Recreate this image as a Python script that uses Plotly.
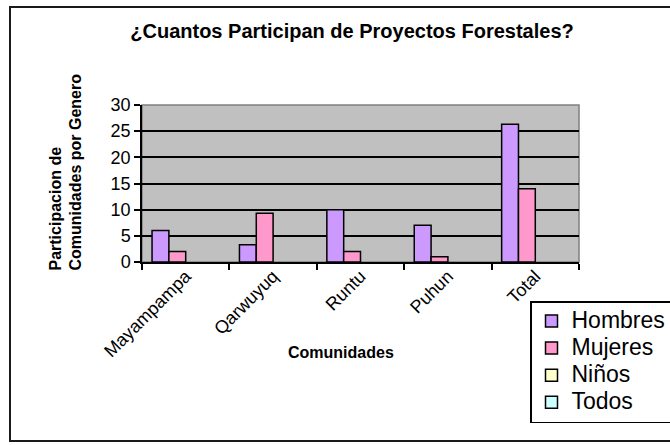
import plotly.graph_objects as go

# ---- data ----
categories = ["Mayampampa", "Qarwuyuq", "Runtu", "Puhun", "Total"]
series_names = ["Hombres", "Mujeres", "Niños", "Todos"]
hombres = [6, 3.3, 10, 7, 26.3]
mujeres = [2, 9.3, 2, 1, 14]
ninos = [None, None, None, None, None]
todos = [None, None, None, None, None]
series_values = [hombres, mujeres, ninos, todos]
series_colors = ["#cc99ff", "#ff99cc", "#ffffcc", "#ccffff"]
y_ticks = [0, 5, 10, 15, 20, 25, 30]

# ---- layout geometry (pixels) ----
W, H = 670, 445
L, R, T, B = 142, 91, 105, 183
PW, PH = W - L - R, H - T - B


def px(x):
    return (x - L) / PW


def py(y):
    return (H - B - y) / PH


fig = go.Figure()
for name, vals, col in zip(series_names, series_values, series_colors):
    fig.add_trace(go.Bar(
        x=categories, y=vals,
        name="<span style='font-size:23px'>" + name + "</span>",
        marker=dict(color=col, line=dict(color="#000000", width=1.5)),
    ))

font_main = "Liberation Sans, Arial, sans-serif"

fig.update_layout(
    width=W, height=H,
    margin=dict(l=L, r=R, t=T, b=B, autoexpand=False),
    paper_bgcolor="white",
    plot_bgcolor="#c0c0c0",
    barmode="group",
    bargap=0.23,
    bargroupgap=0,
    font=dict(family=font_main, color="black"),
    title=dict(
        text="<b>¿Cuantos Participan de Proyectos Forestales?</b>",
        font=dict(family="Liberation Sans Narrow, Arial Narrow, Liberation Sans, sans-serif", size=20, color="black"),
        x=352 / W, xref="container", xanchor="center",
        y=1 - 31 / H, yref="container", yanchor="middle",
    ),
    xaxis=dict(
        type="category",
        tickson="boundaries",
        ticks="outside", ticklen=6, tickwidth=1.5, tickcolor="black",
        showline=True, linecolor="black", linewidth=1.5,
        tickangle=-45,
        ticklabelstandoff=-5,
        tickfont=dict(size=18, family=font_main, color="black"),
        showgrid=False,
        automargin=False,
    ),
    yaxis=dict(
        range=[0, 30],
        tickvals=y_ticks,
        ticks="outside", ticklen=6, tickwidth=1.5, tickcolor="black",
        showline=True, linecolor="black", linewidth=1.5,
        showgrid=True, gridcolor="black", gridwidth=1.5,
        tickfont=dict(size=18, family=font_main, color="black"),
        zeroline=False,
        automargin=False,
    ),
    legend=dict(
        x=px(530), y=py(301), xref="paper", yref="paper",
        xanchor="left", yanchor="top",
        bgcolor="white", bordercolor="black", borderwidth=1.5,
        font=dict(size=18.5, family=font_main, color="black"),
        itemwidth=30,
        traceorder="normal",
    ),
    showlegend=True,
)

# outer chart frame
fig.add_shape(type="rect", xref="paper", yref="paper",
              x0=px(10), x1=px(690), y0=py(7), y1=py(441),
              line=dict(color="#1a1a1a", width=2), fillcolor="rgba(0,0,0,0)", layer="below")
# plot-area border (gray, top/right)
fig.add_shape(type="rect", xref="paper", yref="paper",
              x0=0, x1=1, y0=0, y1=1,
              line=dict(color="#7f7f7f", width=1.5), fillcolor="rgba(0,0,0,0)", layer="below")

# axis titles
fig.add_annotation(
    text="<b>Participacion de<br>Comunidades por Genero</b>",
    xref="paper", yref="paper", x=px(65), y=py(273),
    xanchor="center", yanchor="bottom", textangle=-90, align="left",
    showarrow=False, font=dict(size=16, family=font_main, color="black"),
)
fig.add_annotation(
    text="<b>Comunidades</b>",
    xref="paper", yref="paper", x=px(341), y=py(352),
    xanchor="center", yanchor="middle",
    showarrow=False, font=dict(size=16, family=font_main, color="black"),
)

fig.write_html("out.html")
